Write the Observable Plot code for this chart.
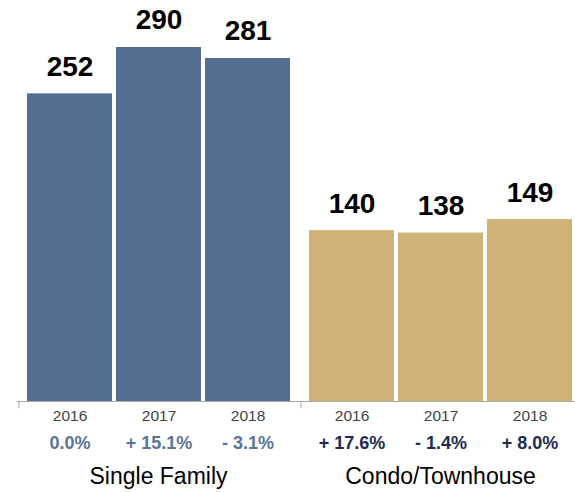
<!DOCTYPE html>
<html>
<head>
<meta charset="utf-8">
<script src="https://cdn.jsdelivr.net/npm/d3@7"></script>
<script src="https://cdn.jsdelivr.net/npm/@observablehq/plot@0.6"></script>
<style>
  html, body { margin: 0; padding: 0; background: #fff; overflow: hidden; }
  #chart { width: 575px; height: 492px; overflow: hidden; }
</style>
</head>
<body>
<div id="chart"></div>
<script>
const groups = ["Single Family", "Condo/Townhouse"];
const years = ["2016", "2017", "2018"];
const singleFamily = [252, 290, 281];
const condo = [140, 138, 149];
const singleFamilyChange = ["0.0%", "+ 15.1%", "- 3.1%"];
const condoChange = ["+ 17.6%", "- 1.4%", "+ 8.0%"];

const barColors = ["#546E91", "#CFB277"];
const changeColors = ["#5B7399", "#1F2B50"];
const font = "'Helvetica Neue', Helvetica, Arial, 'Liberation Sans', sans-serif";

const rows = [];
years.forEach((y, i) => rows.push({group: groups[0], year: y, value: singleFamily[i], change: singleFamilyChange[i]}));
years.forEach((y, i) => rows.push({group: groups[1], year: y, value: condo[i], change: condoChange[i]}));

const W = 575, H = 492;
const mLeft = 17, mRight = -6, mTop = 47, mBottom = 91;
const xPadIn = 0.045, xPadOut = 0.09;
const facetW = (W - mLeft - mRight) / groups.length;
const step = facetW / (years.length - xPadIn + 2 * xPadOut);
const edgeOffset = -(step * (1 - xPadIn) / 2 + step * xPadOut);

const chart = Plot.plot({
  width: W,
  height: H,
  marginLeft: mLeft,
  marginRight: mRight,
  marginTop: mTop,
  marginBottom: mBottom,
  style: {fontFamily: font, background: "#fff", overflow: "visible"},
  fx: {domain: groups, paddingInner: 0, paddingOuter: 0, axis: null},
  x: {domain: years, paddingInner: xPadIn, paddingOuter: xPadOut, axis: null},
  y: {domain: [0, 290], axis: null},
  color: {domain: groups, range: barColors},
  marks: [
    Plot.barY(rows, {fx: "group", x: "year", y: "value", fill: "group"}),
    Plot.ruleY([0], {stroke: "#aaa", strokeWidth: 1}),
    Plot.ruleX([years[0]], {x: d => d, y1: 0, y2: -6, dx: edgeOffset, stroke: "#aaa", strokeWidth: 1}),
    Plot.text(rows, {fx: "group", x: "year", y: "value", text: d => String(d.value), dy: -27, fontSize: 28, fontWeight: "bold", fill: "#000"}),
    Plot.text(rows, {fx: "group", x: "year", y: 0, text: "year", dy: 15, fontSize: 15.5, fill: "#444"}),
    Plot.text(rows.filter(d => d.group === groups[0]), {fx: "group", x: "year", y: 0, text: "change", dy: 42, fontSize: 18, fontWeight: "bold", fill: changeColors[0]}),
    Plot.text(rows.filter(d => d.group === groups[1]), {fx: "group", x: "year", y: 0, text: "change", dy: 42, fontSize: 18, fontWeight: "bold", fill: changeColors[1]}),
    Plot.text(groups, {fx: d => d, text: d => d, frameAnchor: "bottom", lineAnchor: "middle", dy: 75, fontSize: 23, fill: "#000"})
  ]
});
document.getElementById("chart").appendChild(chart);
</script>
</body>
</html>
